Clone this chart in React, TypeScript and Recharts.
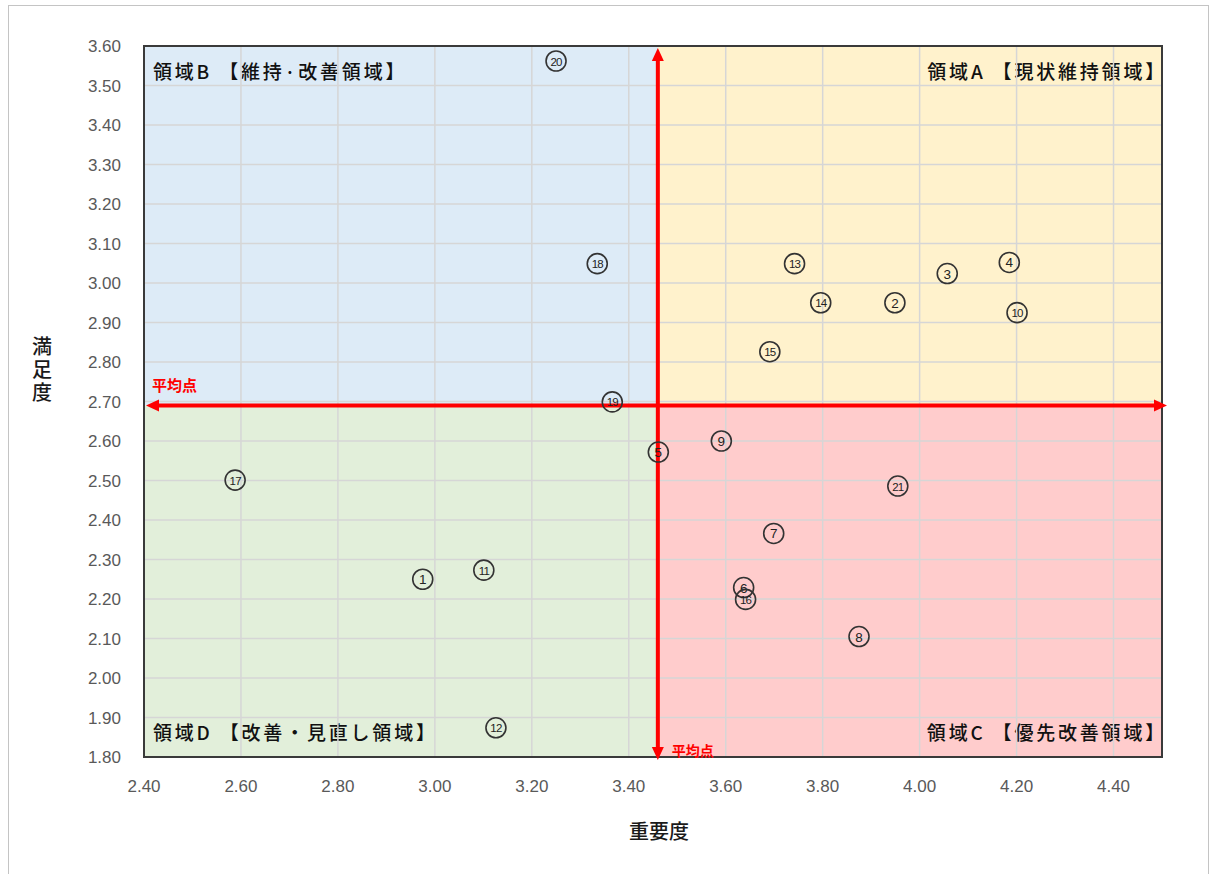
import React from 'react';
import {
  ScatterChart, Scatter, XAxis, YAxis, CartesianGrid, ReferenceArea, ReferenceLine,
} from 'recharts';

const itemNos = [1, 2, 3, 4, 5, 6, 7, 8, 9, 10, 11, 12, 13, 14, 15, 16, 17, 18, 19, 20, 21];
const importance = [2.975, 3.949, 4.057, 4.185, 3.461, 3.637, 3.699, 3.875, 3.591, 4.201, 3.101, 3.126, 3.742, 3.796, 3.691, 3.641, 2.588, 3.335, 3.366, 3.25, 3.955];
const satisfaction = [2.25, 2.95, 3.024, 3.052, 2.572, 2.229, 2.366, 2.105, 2.6, 2.925, 2.273, 1.874, 3.049, 2.95, 2.826, 2.199, 2.501, 3.049, 2.699, 3.562, 2.486];

const xTicks = [2.4, 2.6, 2.8, 3.0, 3.2, 3.4, 3.6, 3.8, 4.0, 4.2, 4.4];
const yTicks = [1.8, 1.9, 2.0, 2.1, 2.2, 2.3, 2.4, 2.5, 2.6, 2.7, 2.8, 2.9, 3.0, 3.1, 3.2, 3.3, 3.4, 3.5, 3.6];
const xDomain = [2.4, 4.5];
const yDomain = [1.8, 3.6];
const avgImportance = 3.46;
const avgSatisfaction = 2.69;
const avgLabel = '平均点';
const quadrantLabels = {
  A: '領域A 【現状維持領域】',
  B: '領域B 【維持·改善領域】',
  C: '領域C 【優先改善領域】',
  D: '領域D 【改善・見直し領域】',
};
const xLabel = '重要度';
const yLabel = '満足度';

const data = itemNos.map((n, i) => ({ no: n, x: importance[i], y: satisfaction[i] }));

const CJK = '"Noto Sans CJK JP", "Noto Sans", sans-serif';
const NUM = '"Liberation Sans", Arial, sans-serif';
const RED = '#ff0000';

const PointShape = (props: any) => {
  const { cx, cy, payload } = props;
  if (cx == null || cy == null) return null;
  const label = String(payload.no);
  return (
    <g>
      <circle cx={cx} cy={cy} r={10} fill="none" stroke="#333" strokeWidth={1.6} />
      <text x={cx} y={cy + 0.5} textAnchor="middle" dominantBaseline="central"
        fontFamily={NUM} fontSize={label.length > 1 ? 11.5 : 13.5} fill="#222"
        letterSpacing={label.length > 1 ? -0.8 : 0}>
        {label}
      </text>
    </g>
  );
};

const HArrow = (props: any) => {
  const { x1, y1, x2 } = props;
  if (x1 == null) return null;
  const a = 13, w = 6;
  const left = x1 + 2, right = x2 + 5;
  return (
    <g>
      <line x1={left + a} y1={y1} x2={right - a} y2={y1} stroke={RED} strokeWidth={4} />
      <polygon points={`${left},${y1} ${left + a},${y1 - w} ${left + a},${y1 + w}`} fill={RED} />
      <polygon points={`${right},${y1} ${right - a},${y1 - w} ${right - a},${y1 + w}`} fill={RED} />
      <text x={left + 6} y={y1 - 14} fill={RED} fontFamily={CJK} fontWeight={700} fontSize={15}>{avgLabel}</text>
    </g>
  );
};

const VArrow = (props: any) => {
  const { x1, y1, y2 } = props;
  if (x1 == null) return null;
  const a = 13, w = 6;
  const top = Math.min(y1, y2) + 2, bottom = Math.max(y1, y2) + 3;
  return (
    <g>
      <line x1={x1} y1={top + a} x2={x1} y2={bottom - a} stroke={RED} strokeWidth={4} />
      <polygon points={`${x1},${top} ${x1 - w},${top + a} ${x1 + w},${top + a}`} fill={RED} />
      <polygon points={`${x1},${bottom} ${x1 - w},${bottom - a} ${x1 + w},${bottom - a}`} fill={RED} />
      <text x={x1 + 14} y={bottom - 4} fill={RED} fontFamily={CJK} fontWeight={700} fontSize={14}>{avgLabel}</text>
    </g>
  );
};

const YLabel = (props: any) => {
  const vb = props.viewBox || { x: 0, y: 46, width: 144, height: 711 };
  const cx = vb.x + 42;
  const cy = vb.y + vb.height / 2 - 30;
  return (
    <text x={cx} y={cy - 35} textAnchor="start" fontFamily={CJK} fontSize={20} fill="#1a1a1a" fontWeight={500}
      style={{ writingMode: 'vertical-rl', textOrientation: 'upright', letterSpacing: 3 } as any}>
      {yLabel}
    </text>
  );
};

const makeQuadLabel = (text: string, corner: 'tl' | 'tr' | 'bl' | 'br') => (props: any) => {
  const vb = props.viewBox;
  if (!vb) return null;
  const left = corner === 'tl' || corner === 'bl';
  const top = corner === 'tl' || corner === 'tr';
  const x = left ? vb.x + 9 : vb.x + vb.width + 5;
  const y = top ? vb.y + 33 : vb.y + vb.height - 17;
  return (
    <text x={x} y={y} textAnchor={left ? 'start' : 'end'} fontFamily={CJK} fontSize={19} fontWeight={500}
      letterSpacing={2.8} fill="#111">
      {text}
    </text>
  );
};

export default function App() {
  return (
    <div style={{ position: 'absolute', left: 0, top: 0, width: 1216, height: 874, overflow: 'hidden', background: '#fff' }}>
      <div style={{ position: 'absolute', left: 8, top: 5, width: 1201, height: 900, border: '1.5px solid #c4c4c4', boxSizing: 'border-box' }} />
      <div style={{ position: 'absolute', left: 0, top: 0 }}>
        <ScatterChart width={1216} height={874} margin={{ top: 46, right: 54, bottom: 27, left: 0 }}>
          <ReferenceArea x1={xDomain[0]} x2={avgImportance} y1={avgSatisfaction} y2={yDomain[1]} fill="#ddebf7" fillOpacity={1} stroke="none"
            zIndex={-200} label={{ content: makeQuadLabel(quadrantLabels.B, 'tl') }} />
          <ReferenceArea x1={avgImportance} x2={xDomain[1]} y1={avgSatisfaction} y2={yDomain[1]} fill="#fff2cc" fillOpacity={1} stroke="none"
            zIndex={-200} label={{ content: makeQuadLabel(quadrantLabels.A, 'tr') }} />
          <ReferenceArea x1={xDomain[0]} x2={avgImportance} y1={yDomain[0]} y2={avgSatisfaction} fill="#e2efda" fillOpacity={1} stroke="none"
            zIndex={-200} label={{ content: makeQuadLabel(quadrantLabels.D, 'bl') }} />
          <ReferenceArea x1={avgImportance} x2={xDomain[1]} y1={yDomain[0]} y2={avgSatisfaction} fill="#ffcccc" fillOpacity={1} stroke="none"
            zIndex={-200} label={{ content: makeQuadLabel(quadrantLabels.C, 'br') }} />
          <CartesianGrid stroke="#d6d6d6" strokeWidth={1.5} horizontalValues={yTicks} verticalValues={xTicks} />
          <ReferenceArea x1={xDomain[0]} x2={xDomain[1]} y1={yDomain[0]} y2={yDomain[1]} fill="none" stroke="#3a3a3a" strokeWidth={2} />
          <XAxis type="number" dataKey="x" domain={xDomain} ticks={xTicks} allowDataOverflow
            tickFormatter={(v: number) => v.toFixed(2)} axisLine={false} tickLine={false} tickMargin={17} height={90}
            tick={{ fill: '#595959', fontSize: 17, fontFamily: NUM }}
            label={{ value: xLabel, position: 'insideBottom', offset: 8, dx: 6, fill: '#1a1a1a', fontSize: 20, fontFamily: CJK, fontWeight: 500 }} />
          <YAxis type="number" dataKey="y" domain={yDomain} ticks={yTicks} allowDataOverflow width={144}
            tickFormatter={(v: number) => v.toFixed(2)} axisLine={false} tickLine={false} tickMargin={17}
            tick={{ fill: '#595959', fontSize: 17, fontFamily: NUM }}
            label={{ content: YLabel }} />
          <ReferenceLine y={avgSatisfaction} ifOverflow="visible" shape={HArrow} />
          <ReferenceLine x={avgImportance} ifOverflow="visible" shape={VArrow} />
          <Scatter data={data} isAnimationActive={false} shape={PointShape} />
        </ScatterChart>
      </div>
    </div>
  );
}
